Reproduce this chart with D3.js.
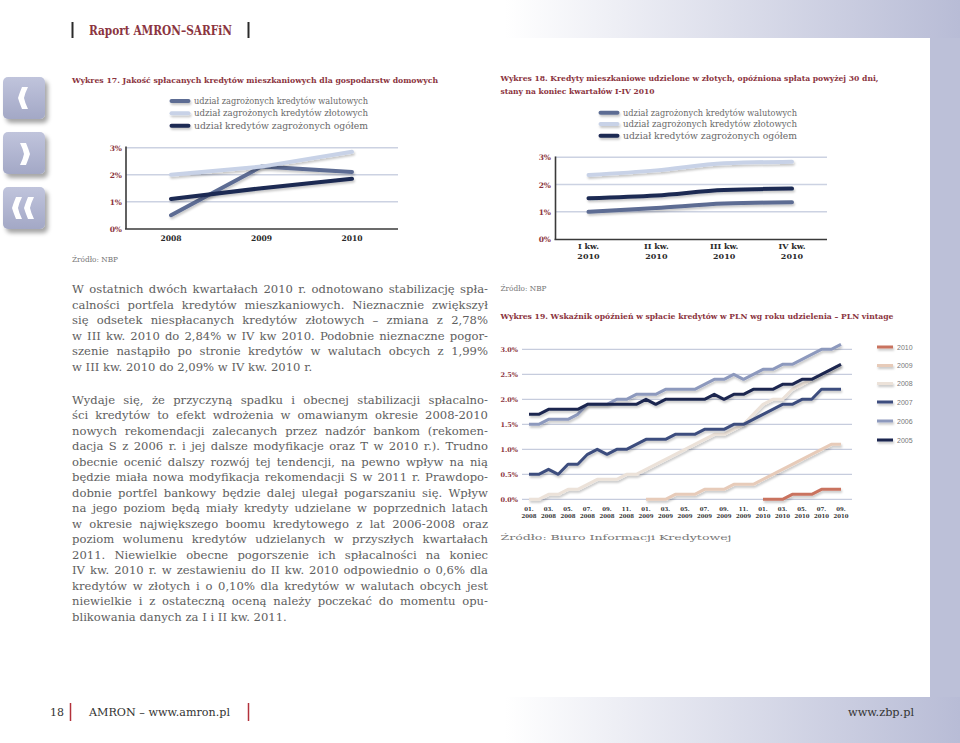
<!DOCTYPE html>
<html><head><meta charset="utf-8">
<script src="https://cdn.jsdelivr.net/npm/d3@7"></script>
<style>body{margin:0;background:#fff}svg{display:block}</style>
</head><body><svg id="c" width="960" height="743"></svg>
<script>
// ---------- DATA ----------
const years17 = ["2008", "2009", "2010"];
const walutowe17 = [0.5, 2.3, 2.1];
const zlotowe17 = [2.0, 2.3, 2.85];
const ogolem17 = [1.1, 1.5, 1.85];
const yTicks17 = [0, 1, 2, 3];

const quarters18 = ["I kw.", "II kw.", "III kw.", "IV kw."];
const quarterYear18 = ["2010", "2010", "2010", "2010"];
const walutowe18 = [1.0, 1.14, 1.3, 1.35];
const zlotowe18 = [2.35, 2.52, 2.78, 2.84];
const ogolem18 = [1.5, 1.6, 1.8, 1.85];

const legendLabels = ["udział zagrożonych kredytów walutowych", "udział zagrożonych kredytów złotowych", "udział kredytów zagrożonych ogółem"];

const months19 = ["01.2008","02.2008","03.2008","04.2008","05.2008","06.2008","07.2008","08.2008","09.2008","10.2008","11.2008","12.2008",
  "01.2009","02.2009","03.2009","04.2009","05.2009","06.2009","07.2009","08.2009","09.2009","10.2009","11.2009","12.2009",
  "01.2010","02.2010","03.2010","04.2010","05.2010","06.2010","07.2010","08.2010","09.2010"];
const tickMonths19 = ["01.2008","03.2008","05.2008","07.2008","09.2008","11.2008","01.2009","03.2009","05.2009","07.2009","09.2009","11.2009","01.2010","03.2010","05.2010","07.2010","09.2010"];
const yTicks19 = [0, 0.5, 1.0, 1.5, 2.0, 2.5, 3.0];
const v2005 = [1.7,1.7,1.8,1.8,1.8,1.8,1.9,1.9,1.9,1.9,1.9,1.9,2.0,1.9,2.0,2.0,2.0,2.0,2.0,2.1,2.0,2.1,2.1,2.2,2.2,2.2,2.3,2.3,2.4,2.4,2.5,2.6,2.7];
const v2006 = [1.5,1.5,1.6,1.6,1.6,1.7,1.9,1.9,1.9,2.0,2.0,2.1,2.1,2.1,2.2,2.2,2.2,2.2,2.3,2.4,2.4,2.5,2.4,2.5,2.6,2.6,2.7,2.7,2.8,2.9,3.0,3.0,3.1];
const v2007 = [0.5,0.5,0.6,0.5,0.7,0.7,0.9,1.0,0.9,1.0,1.0,1.1,1.2,1.2,1.2,1.3,1.3,1.3,1.4,1.4,1.4,1.5,1.5,1.6,1.7,1.8,1.9,1.9,2.0,2.0,2.2,2.2,2.2];
const v2008 = [0.0,0.0,0.1,0.1,0.2,0.2,0.3,0.4,0.4,0.4,0.5,0.5,0.6,0.7,0.8,0.9,1.0,1.1,1.2,1.3,1.3,1.4,1.5,1.7,1.9,2.0,2.0,2.2,2.3,2.4,2.5,2.6,2.7];
const v2009 = [null,null,null,null,null,null,null,null,null,null,null,null,0.0,0.0,0.0,0.1,0.1,0.1,0.2,0.2,0.2,0.3,0.3,0.3,0.4,0.5,0.6,0.7,0.8,0.9,1.0,1.1,1.1];
const v2010 = [null,null,null,null,null,null,null,null,null,null,null,null,null,null,null,null,null,null,null,null,null,null,null,null,0.0,0.0,0.0,0.1,0.1,0.1,0.2,0.2,0.2];
const vintages19 = ["2010", "2009", "2008", "2007", "2006", "2005"];

const para1 = [
"W ostatnich dwóch kwartałach 2010 r. odnotowano stabilizację spła-",
"calności portfela kredytów mieszkaniowych. Nieznacznie zwiększył",
"się odsetek niespłacanych kredytów złotowych – zmiana z 2,78%",
"w III kw. 2010 do 2,84% w IV kw 2010. Podobnie nieznaczne pogor-",
"szenie nastąpiło po stronie kredytów w walutach obcych z 1,99%",
"w III kw. 2010 do 2,09% w IV kw. 2010 r."];
const para2 = [
"Wydaje się, że przyczyną spadku i obecnej stabilizacji spłacalno-",
"ści kredytów to efekt wdrożenia w omawianym okresie 2008-2010",
"nowych rekomendacji zalecanych przez nadzór bankom (rekomen-",
"dacja S z 2006 r. i jej dalsze modyfikacje oraz T w 2010 r.). Trudno",
"obecnie ocenić dalszy rozwój tej tendencji, na pewno wpływ na nią",
"będzie miała nowa modyfikacja rekomendacji S w 2011 r. Prawdopo-",
"dobnie portfel bankowy będzie dalej ulegał pogarszaniu się. Wpływ",
"na jego poziom będą miały kredyty udzielane w poprzednich latach",
"w okresie największego boomu kredytowego z lat 2006-2008 oraz",
"poziom wolumenu kredytów udzielanych w przyszłych kwartałach",
"2011. Niewielkie obecne pogorszenie ich spłacalności na koniec",
"IV kw. 2010 r. w zestawieniu do II kw. 2010 odpowiednio o 0,6% dla",
"kredytów w złotych i o 0,10% dla kredytów w walutach obcych jest",
"niewielkie i z ostateczną oceną należy poczekać do momentu opu-",
"blikowania danych za I i II kw. 2011."];

// ---------- STYLE ----------
const RED = "#8b3440";
const SERIF = "'DejaVu Serif', serif";
const C_WAL = "#5d6c93", C_ZL = "#c8d2e7", C_OG = "#1c2a52";
const C19 = {"2005":"#1b2650","2006":"#8d99bd","2007":"#3c4d7e","2008":"#ece2d9","2009":"#e7cbb9","2010":"#c9735f"};

const svg = d3.select("#c");
const defs = svg.append("defs");
const lg = defs.append("linearGradient").attr("id","band").attr("gradientUnits","userSpaceOnUse")
  .attr("x1",505).attr("x2",960).attr("y1",0).attr("y2",0);
lg.append("stop").attr("offset",0).attr("stop-color","#ffffff");
lg.append("stop").attr("offset",1).attr("stop-color","#b8bcd6");
const sh = defs.append("filter").attr("id","sh").attr("filterUnits","userSpaceOnUse")
  .attr("x",0).attr("y",0).attr("width",960).attr("height",743);
sh.append("feDropShadow").attr("dx",1).attr("dy",2).attr("stdDeviation",1.3).attr("flood-color","#000").attr("flood-opacity",0.22);
const bsh = defs.append("filter").attr("id","bsh").attr("x","-20%").attr("y","-20%").attr("width","160%").attr("height","160%");
bsh.append("feDropShadow").attr("dx",3).attr("dy",4).attr("stdDeviation",2.2).attr("flood-color","#000").attr("flood-opacity",0.35);
const bg = defs.append("linearGradient").attr("id","btn").attr("x1",0).attr("y1",0).attr("x2",0).attr("y2",1);
bg.append("stop").attr("offset",0).attr("stop-color","#c0c4dc");
bg.append("stop").attr("offset",1).attr("stop-color","#a3a8c6");

function fit(sel, w) {
  sel.attr("textLength", w).attr("lengthAdjust", "spacingAndGlyphs");
  return sel;
}
function txt(g, x, y, s, o) {
  o = o || {};
  const t = g.append("text").attr("x", x).attr("y", y).text(s)
    .attr("font-family", o.ff || SERIF).attr("font-size", o.fs || 10)
    .attr("font-weight", o.fw || "normal").attr("fill", o.fill || "#333")
    .attr("text-anchor", o.anchor || "start");
  if (o.w) fit(t, o.w);
  return t;
}

// ---------- PAGE FRAME ----------
svg.append("rect").attr("x",0).attr("y",0).attr("width",960).attr("height",38).attr("fill","url(#band)");
svg.append("rect").attr("x",0).attr("y",697).attr("width",960).attr("height",46).attr("fill","url(#band)");
svg.append("rect").attr("x",930).attr("y",38).attr("width",30).attr("height",659).attr("fill","#bcc0d8");

svg.append("line").attr("x1",72.5).attr("x2",72.5).attr("y1",22).attr("y2",38).attr("stroke","#2a2a2a").attr("stroke-width",2);
svg.append("line").attr("x1",248.5).attr("x2",248.5).attr("y1",22).attr("y2",38).attr("stroke","#2a2a2a").attr("stroke-width",2);
txt(svg, 89, 34.5, "Raport AMRON–SARFiN", {fs:12.5, fw:"bold", fill:RED, w:143});

// nav buttons
const btnTops = [77, 132, 187];
btnTops.forEach(t => {
  svg.append("rect").attr("x",3).attr("y",t).attr("width",42).attr("height",42).attr("rx",5)
    .attr("fill","url(#btn)").attr("filter","url(#bsh)");
});
const chevL = (x0, t) => `M${x0+10} ${t+10} L${x0+4} ${t+10} Q${x0+1.5} ${t+16} ${x0} ${t+21} Q${x0+1.5} ${t+26} ${x0+4} ${t+32} L${x0+10} ${t+32} Q${x0+7} ${t+26} ${x0+6} ${t+21} Q${x0+7} ${t+16} ${x0+10} ${t+10} Z`;
const chevR = (x0, t) => `M${x0} ${t+11} L${x0+6} ${t+11} Q${x0+8.5} ${t+17} ${x0+10} ${t+22} Q${x0+8.5} ${t+27} ${x0+6} ${t+33} L${x0} ${t+33} Q${x0+3} ${t+27} ${x0+4} ${t+22} Q${x0+3} ${t+17} ${x0} ${t+11} Z`;
svg.append("path").attr("d", chevL(18, 77)).attr("fill","#fff");
svg.append("path").attr("d", chevR(20, 132)).attr("fill","#fff");
svg.append("path").attr("d", chevL(12, 187)).attr("fill","#fff");
svg.append("path").attr("d", chevL(24, 187)).attr("fill","#fff");

// footer
txt(svg, 64, 716, "18", {fs:11, fill:"#333", anchor:"end"});
svg.append("line").attr("x1",70.5).attr("x2",70.5).attr("y1",703).attr("y2",721).attr("stroke","#b3313b").attr("stroke-width",1.5);
txt(svg, 89, 716, "AMRON – www.amron.pl", {fs:11, fill:"#333", w:141});
svg.append("line").attr("x1",248.5).attr("x2",248.5).attr("y1",703).attr("y2",721).attr("stroke","#b3313b").attr("stroke-width",1.5);
txt(svg, 914, 716, "www.zbp.pl", {fs:11, fill:"#333", anchor:"end", w:66});

// ---------- BODY TEXT ----------
function paragraph(lines, y0, lh) {
  const x0 = 72, width = 416;
  lines.forEach((ln, i) => {
    const y = y0 + i * lh;
    const last = i === lines.length - 1;
    if (last) {
      txt(svg, x0, y, ln, {fs:11.6, fill:"#5e5e5e"});
      return;
    }
    const words = ln.split(" ");
    const g = svg.append("g");
    const nodes = words.map(w => txt(g, 0, y, w, {fs:11.6, fill:"#5e5e5e"}));
    const widths = nodes.map(n => n.node().getComputedTextLength());
    const total = d3.sum(widths);
    const gap = (width - total) / (words.length - 1);
    let x = x0;
    nodes.forEach((n, k) => { n.attr("x", x); x += widths[k] + gap; });
  });
}
paragraph(para1, 293, 15.6);
paragraph(para2, 403.5, 15.5);

// ---------- legend helper ----------
function legend3(x, ys, tx) {
  const cols = [C_WAL, C_ZL, C_OG];
  const g = svg.append("g");
  legendLabels.forEach((l, i) => {
    g.append("line").attr("x1", x).attr("x2", x + 17).attr("y1", ys[i]).attr("y2", ys[i])
      .attr("stroke", cols[i]).attr("stroke-width", 4).attr("stroke-linecap","round").attr("filter","url(#sh)");
    txt(g, tx, ys[i] + 3, l, {fs:8.6, fill:"#6a6a6a", w:174});
  });
}

// ---------- CHART 17 ----------
txt(svg, 72, 83, "Wykres 17. Jakość spłacanych kredytów mieszkaniowych dla gospodarstw domowych", {fs:8, fw:"bold", fill:RED, w:366});
legend3(171.5, [101, 113.3, 125.7], 194);
const x17 = d3.scalePoint().domain(years17).range([171, 352]);
const y17 = d3.scaleLinear().domain([0, 3]).range([228.7, 147.7]);
const g17 = svg.append("g");
yTicks17.filter(d => d > 0).forEach(d => {
  g17.append("line").attr("x1",126).attr("x2",398).attr("y1",y17(d)).attr("y2",y17(d)).attr("stroke","#ccd2e2").attr("stroke-width",1.5);
});
g17.append("line").attr("x1",126).attr("x2",126).attr("y1",146.5).attr("y2",229).attr("stroke","#3a3a3a").attr("stroke-width",1.6);
g17.append("line").attr("x1",125).attr("x2",398).attr("y1",229).attr("y2",229).attr("stroke","#3a3a3a").attr("stroke-width",1.6);
yTicks17.forEach(d => txt(g17, 122, y17(d) + 3, d + "%", {fs:7.5, fw:"bold", fill:RED, anchor:"end"}));
years17.forEach(d => txt(g17, x17(d), 240.5, d, {fs:7.6, fw:"bold", fill:"#2a2a2a", anchor:"middle"}));
const line17 = d3.line().x((d, i) => x17(years17[i])).y(d => y17(d));
[[walutowe17, C_WAL], [zlotowe17, C_ZL], [ogolem17, C_OG]].forEach(([v, c]) => {
  g17.append("path").attr("d", line17(v)).attr("fill","none").attr("stroke", c).attr("stroke-width", 4)
    .attr("stroke-linecap","round").attr("stroke-linejoin","round").attr("filter","url(#sh)");
});
txt(svg, 72, 261.5, "Źródło: NBP", {fs:8, fill:"#777", w:46});

// ---------- CHART 18 ----------
txt(svg, 500.5, 81, "Wykres 18. Kredyty mieszkaniowe udzielone w złotych, opóźniona spłata powyżej 30 dni,", {fs:8, fw:"bold", fill:RED, w:378});
txt(svg, 500.5, 94, "stany na koniec kwartałów I-IV 2010", {fs:8, fw:"bold", fill:RED, w:154});
legend3(600.5, [112.7, 124, 135.7], 623);
const x18 = d3.scalePoint().domain(quarters18).range([588.5, 792]);
const y18 = d3.scaleLinear().domain([0, 3]).range([239, 157.3]);
const g18 = svg.append("g");
yTicks17.filter(d => d > 0).forEach(d => {
  g18.append("line").attr("x1",555).attr("x2",827).attr("y1",y18(d)).attr("y2",y18(d)).attr("stroke","#ccd2e2").attr("stroke-width",1.5);
});
g18.append("line").attr("x1",555.5).attr("x2",555.5).attr("y1",156.5).attr("y2",239.5).attr("stroke","#3a3a3a").attr("stroke-width",1.6);
g18.append("line").attr("x1",554.5).attr("x2",827).attr("y1",239.5).attr("y2",239.5).attr("stroke","#3a3a3a").attr("stroke-width",1.6);
yTicks17.forEach(d => txt(g18, 551, y18(d) + 3, d + "%", {fs:7.5, fw:"bold", fill:RED, anchor:"end"}));
quarters18.forEach((q, i) => {
  txt(g18, x18(q), 249, q, {fs:8, fw:"bold", fill:"#2a2a2a", anchor:"middle"});
  txt(g18, x18(q), 258.5, quarterYear18[i], {fs:8, fw:"bold", fill:"#2a2a2a", anchor:"middle"});
});
const line18 = d3.line().x((d, i) => x18(quarters18[i])).y(d => y18(d)).curve(d3.curveMonotoneX);
[[walutowe18, C_WAL], [zlotowe18, C_ZL], [ogolem18, C_OG]].forEach(([v, c]) => {
  g18.append("path").attr("d", line18(v)).attr("fill","none").attr("stroke", c).attr("stroke-width", 4)
    .attr("stroke-linecap","round").attr("stroke-linejoin","round").attr("filter","url(#sh)");
});
txt(svg, 500.5, 290.5, "Źródło: NBP", {fs:8, fill:"#777", w:46});

// ---------- CHART 19 ----------
txt(svg, 500.5, 319, "Wykres 19. Wskaźnik opóźnień w spłacie kredytów w PLN wg roku udzielenia – PLN vintage", {fs:8, fw:"bold", fill:RED, w:393});
const x19 = d3.scalePoint().domain(months19).range([529, 841]);
const y19 = d3.scaleLinear().domain([0, 3]).range([499.3, 349.3]);
const g19 = svg.append("g");
yTicks19.forEach(d => {
  g19.append("line").attr("x1",522).attr("x2",852).attr("y1",y19(d)).attr("y2",y19(d)).attr("stroke","#c6ccdd").attr("stroke-width",1.2);
  txt(g19, 518, y19(d) + 2.4, d.toFixed(1) + "%", {fs:6.5, fw:"bold", fill:RED, anchor:"end"});
});
tickMonths19.forEach(m => {
  const [mm, yy] = m.split(".");
  txt(g19, x19(m), 511, mm + ".", {fs:5.4, fw:"bold", fill:"#333", anchor:"middle"});
  txt(g19, x19(m), 517.5, yy, {fs:5.4, fw:"bold", fill:"#333", anchor:"middle"});
});
const line19 = d3.line().defined(d => d != null).x((d, i) => x19(months19[i])).y(d => y19(d));
const series19 = {"2005": v2005, "2006": v2006, "2007": v2007, "2008": v2008, "2009": v2009, "2010": v2010};
["2009", "2010", "2008", "2006", "2007", "2005"].forEach(k => {
  g19.append("path").attr("d", line19(series19[k])).attr("fill","none").attr("stroke", C19[k]).attr("stroke-width", 3)
    .attr("stroke-linejoin","round").attr("filter","url(#sh)");
});
// legend 19
const ly19 = [347, 365.5, 383.5, 402, 421, 440];
vintages19.forEach((k, i) => {
  g19.append("line").attr("x1",877).attr("x2",893).attr("y1",ly19[i]).attr("y2",ly19[i])
    .attr("stroke", C19[k]).attr("stroke-width",3).attr("filter","url(#sh)");
  txt(g19, 897, ly19[i] + 2.5, k, {ff:"'Liberation Sans', sans-serif", fs:7, fill:"#777"});
});
txt(svg, 500.5, 539.5, "Źródło: Biuro Informacji Kredytowej", {fs:8, fill:"#777", w:231});
</script></body></html>
